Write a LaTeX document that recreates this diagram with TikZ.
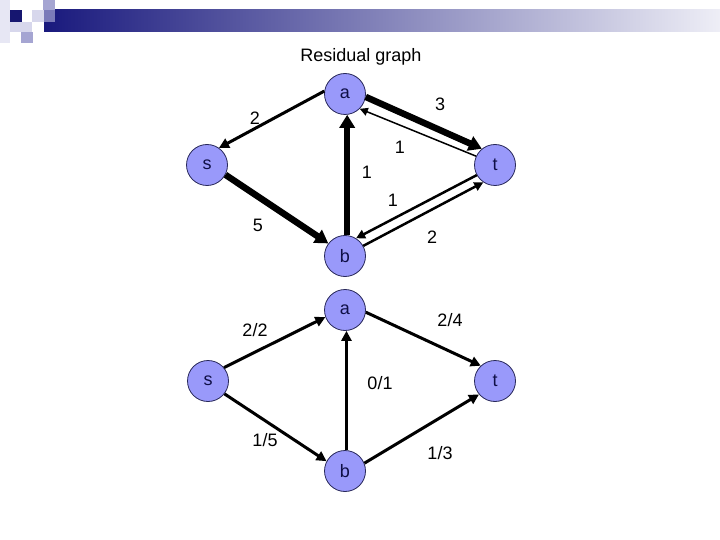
\documentclass[tikz,border=0pt]{standalone}
\usepackage{fontspec}
\setmainfont{Liberation Sans}
\usetikzlibrary{arrows.meta}

\definecolor{vertexfill}{RGB}{153,153,250}
\definecolor{vertexline}{RGB}{40,40,90}
\definecolor{vertextext}{RGB}{15,15,70}
\definecolor{barnavy}{RGB}{25,25,125}
\definecolor{barlight}{RGB}{238,238,246}
\definecolor{sqpale}{RGB}{215,215,236}
\definecolor{sqmid}{RGB}{165,165,210}

\tikzset{
  vertex/.style={circle, fill=vertexfill, draw=vertexline, line width=0.8pt,
    minimum size=41pt, inner sep=0pt, text=vertextext,
    font=\fontsize{18}{20}\selectfont},
  elabel/.style={font=\fontsize{18}{20}\selectfont},
  heavy/.style={line width=6.5pt, -{Triangle[length=13pt,width=15pt]}},
  medium/.style={line width=3pt, -{Triangle[length=10pt,width=10pt]}},
  light/.style={line width=2.5pt, -{Triangle[length=9pt,width=9pt]}},
  hair/.style={line width=1.5pt, -{Triangle[length=8pt,width=8pt]}}
}

\begin{document}
\begin{tikzpicture}[x=1pt,y=-1pt]
\useasboundingbox (0,0) rectangle (720,540);

% slide decoration
\shade[left color=barnavy, right color=barlight] (44,10) rectangle (720,32);
\fill[sqpale!60!white] (0,0) rectangle (10,43);
\fill[sqpale] (32,10) rectangle (44,22);
\fill[sqmid] (43,0) rectangle (55,10);
\fill[sqmid!70!barnavy] (44,10) rectangle (55,22);
\fill[barnavy!90!black] (10,10) rectangle (22,22);
\fill[sqpale] (10,22) rectangle (32,32);
\fill[sqmid] (21,32) rectangle (33,43);

\node[elabel] (title) at (361,57) {Residual graph};

% residual graph
\node[vertex] (a1) at (345,94) {a};
\node[vertex] (s1) at (207,165) {s};
\node[vertex] (t1) at (495,165) {t};
\node[vertex] (b1) at (345,256) {b};

\draw[medium] (a1.172) -- (s1.55);
\draw[heavy] (s1.-28) -- (b1.143);
\draw[heavy] (b1.84) -- (a1.-84);
\draw[heavy] (a1.-8) -- (t1.129);
\draw[hair] (t1.155) -- (a1.-45);
\draw[light] (t1.-151) -- (b1.58);
\draw[light] (b1.29) -- (t1.-124);

\node[elabel] (ras) at (255,118) {2};
\node[elabel] (rat) at (440,104) {3};
\node[elabel] (rta) at (400,147) {1};
\node[elabel] (rba) at (367,172) {1};
\node[elabel] (rtb) at (393,200) {1};
\node[elabel] (rsb) at (258,225) {5};
\node[elabel] (rbt) at (432,237) {2};

% flow graph
\node[vertex] (a2) at (345,310) {a};
\node[vertex] (s2) at (208,381) {s};
\node[vertex] (t2) at (495,381) {t};
\node[vertex] (b2) at (345,471) {b};

\draw[medium] (s2.40) -- (a2.-160);
\draw[medium] (s2.-38) -- (b2.152);
\draw[medium] (b2.86) -- (a2.-86);
\draw[medium] (a2.-6) -- (t2.133);
\draw[medium] (b2.22) -- (t2.-140);

\node[elabel] (fsa) at (255,330) {2/2};
\node[elabel] (fat) at (450,320) {2/4};
\node[elabel] (fba) at (380,383) {0/1};
\node[elabel] (fsb) at (265,440) {1/5};
\node[elabel] (fbt) at (440,453) {1/3};

\end{tikzpicture}
\end{document}
